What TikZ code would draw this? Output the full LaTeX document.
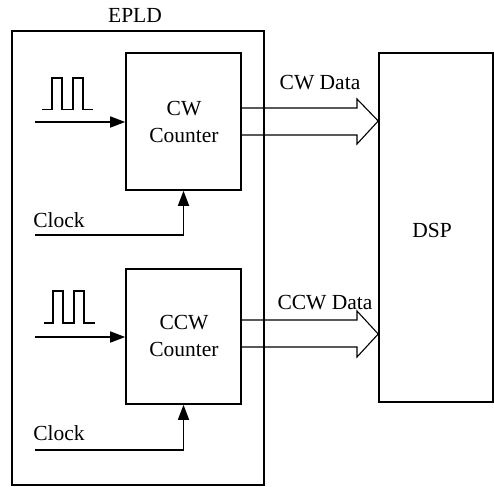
\documentclass[tikz,border=0pt]{standalone}
\usepackage{fontspec}
\setmainfont{Liberation Serif}
\usetikzlibrary{arrows.meta,calc}
\begin{document}
\begin{tikzpicture}[x=1pt,y=-1pt,
  lbl/.style={font=\fontsize{21.5}{27}\selectfont, inner sep=0pt},
  blk/.style={draw, line width=1.6pt, inner sep=0pt},
  sig/.style={line width=1.6pt, -{Triangle[length=15pt,width=11pt]}},
  bus/.style={line width=1.1pt},
  pulse/.style={line width=1.3pt}]
\useasboundingbox (0,0) rectangle (494,486);
% EPLD frame
\node[blk, minimum width=252pt, minimum height=454pt] (epld) at (138,258) {};
\node[lbl] (epldlbl) at (135,15) {EPLD};
% counters
\node[blk, minimum width=115pt, minimum height=137pt] (cw) at (183.5,121.5) {};
\node[lbl, align=center] (cwt) at (184,122) {CW\\Counter};
\node[blk, minimum width=115pt, minimum height=135pt] (ccw) at (183.5,336.5) {};
\node[lbl, align=center] (ccwt) at (184,336) {CCW\\Counter};
% DSP
\node[blk, minimum width=114pt, minimum height=349pt] (dsp) at (436,227.5) {};
\node[lbl] (dsplbl) at (432,230) {DSP};
% pulses
\draw[pulse] (42,109.5) -- (52,109.5) -- (52,78) -- (62,78) -- (62,109.5) -- (73,109.5) -- (73,78) -- (83,78) -- (83,109.5) -- (93,109.5);
\draw[pulse] (44,323) -- (53,323) -- (53,291) -- (63,291) -- (63,323) -- (74,323) -- (74,291) -- (84,291) -- (84,323) -- (95,323);
% inputs
\coordinate (in1) at (35,122);
\coordinate (in2) at (35,337);
\draw[sig] (in1) -- (in1 -| cw.west);
\draw[sig] (in2) -- (in2 -| ccw.west);
% clocks
\node[lbl] (clk1) at (59,220) {Clock};
\node[lbl] (clk2) at (59,433) {Clock};
\coordinate (c1) at (35,235);
\coordinate (c2) at (35,450);
\draw[sig] (c1) -| (cw.south);
\draw[sig] (c2) -| (ccw.south);
% hollow data arrows
\draw[bus] (cw.east |- 0,108) -- (357,108) -- (357,99) -- (dsp.west |- 0,121) -- (357,144) -- (357,135) -- (cw.east |- 0,135);
\draw[bus] (ccw.east |- 0,320) -- (357,320) -- (357,311) -- (dsp.west |- 0,334) -- (357,357) -- (357,347) -- (ccw.east |- 0,347);
\node[lbl] (cwd) at (320,83) {CW Data};
\node[lbl] (ccwd) at (325,303) {CCW Data};
\end{tikzpicture}
\end{document}
